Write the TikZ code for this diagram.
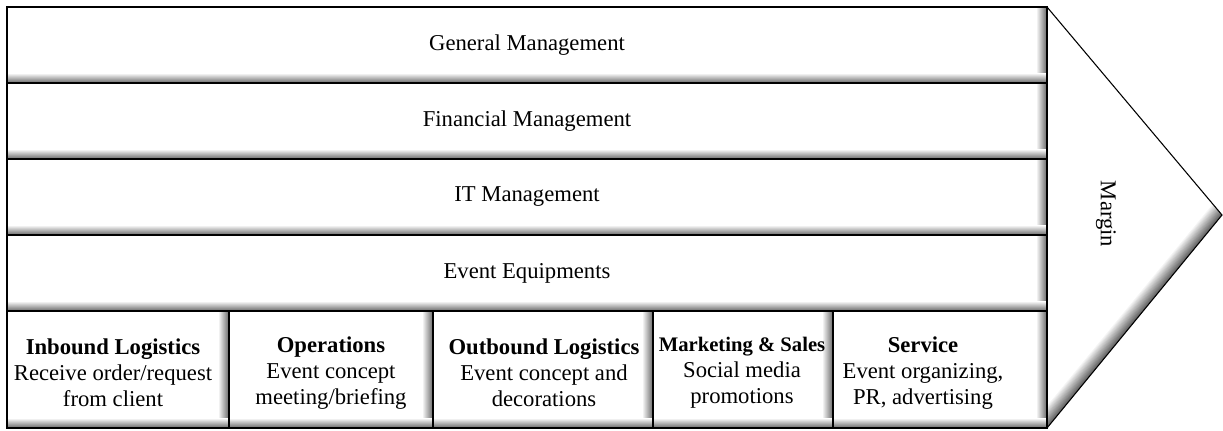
\documentclass[tikz,border=0pt]{standalone}
\usepackage{fontspec}
\setmainfont{Liberation Serif}
\begin{document}
\begin{tikzpicture}[x=0.75pt,y=0.75pt,yscale=-1,xscale=1,
  bshade/.style={top color=white, bottom color=black!60},
  rshade/.style={left color=white, right color=black!60},
  box/.style={draw=black, line width=0.8pt},
  lbl/.style={inner sep=0.75pt, align=center, font=\fontsize{17}{19.5}\selectfont}]
\useasboundingbox (0,0) rectangle (1223,430);

%Shape: Arrow head [id:margin]
\begin{scope}
\clip (1047,7) -- (1222,215) -- (1047,428) -- cycle ;
\foreach \i in {0,...,15}
  \pgfmathtruncatemacro{\shd}{65*(1-\i/15)}
  \draw [draw=black!\shd, line width=1.2pt] (1034.3-0.773*\i,443.5-0.635*\i) -- (1234.7-0.773*\i,199.5-0.635*\i) ;
\end{scope}
\draw [line width=0.8pt] (1047,7) -- (1222,215) -- (1047,428) ;

%Shape: Rows
\shade [rshade] (1036,7) rectangle (1047,83) ; \shade [bshade] (7,73) rectangle (1047,83) ;
\shade [rshade] (1036,83) rectangle (1047,159) ; \shade [bshade] (7,149) rectangle (1047,159) ;
\shade [rshade] (1036,159) rectangle (1047,235) ; \shade [bshade] (7,225) rectangle (1047,235) ;
\shade [rshade] (1036,235) rectangle (1047,311) ; \shade [bshade] (7,301) rectangle (1047,311) ;
\draw [box] (7,7) rectangle (1047,83) ;
\draw [box] (7,83) rectangle (1047,159) ;
\draw [box] (7,159) rectangle (1047,235) ;
\draw [box] (7,235) rectangle (1047,311) ;

%Shape: Primary activities
\shade [rshade] (218,311) rectangle (229,428) ; \shade [bshade] (7,418) rectangle (229,428) ;
\shade [rshade] (422,311) rectangle (433,428) ; \shade [bshade] (229,418) rectangle (433,428) ;
\shade [rshade] (642,311) rectangle (653,428) ; \shade [bshade] (433,418) rectangle (653,428) ;
\shade [rshade] (822,311) rectangle (833,428) ; \shade [bshade] (653,418) rectangle (833,428) ;
\shade [rshade] (1036,311) rectangle (1047,428) ; \shade [bshade] (833,418) rectangle (1047,428) ;
\draw [box] (7,311) rectangle (229,428) ;
\draw [box] (229,311) rectangle (433,428) ;
\draw [box] (433,311) rectangle (653,428) ;
\draw [box] (653,311) rectangle (833,428) ;
\draw [box] (833,311) rectangle (1047,428) ;

% Text Node
\node (gm) at (527,45) [lbl] {General Management};
% Text Node
\node (fm) at (527,121) [lbl] {Financial Management};
% Text Node
\node (itm) at (527,197) [lbl] {IT Management};
% Text Node
\node (eq) at (527,273) [lbl] {Event Equipments};
% Text Node
\node (inb) at (113,373) [lbl] {\textbf{Inbound Logistics}\\Receive order/request\\from client};
% Text Node
\node (ops) at (331,373) [lbl] {\textbf{Operations}\\Event concept\\meeting/briefing};
% Text Node
\node (outb) at (544,373) [lbl] {\textbf{Outbound Logistics}\\Event concept and\\decorations};
% Text Node
\node (mks) at (742,373) [lbl] {\textbf{\fontsize{15.5}{19.5}\selectfont Marketing \& Sales}\\Social media\\promotions};
% Text Node
\node (srv) at (923,373) [lbl] {\textbf{Service}\\Event organizing,\\PR, advertising};
% Text Node
\node (mrg) at (1106,214) [lbl, rotate=-90] {Margin};

\end{tikzpicture}
\end{document}
